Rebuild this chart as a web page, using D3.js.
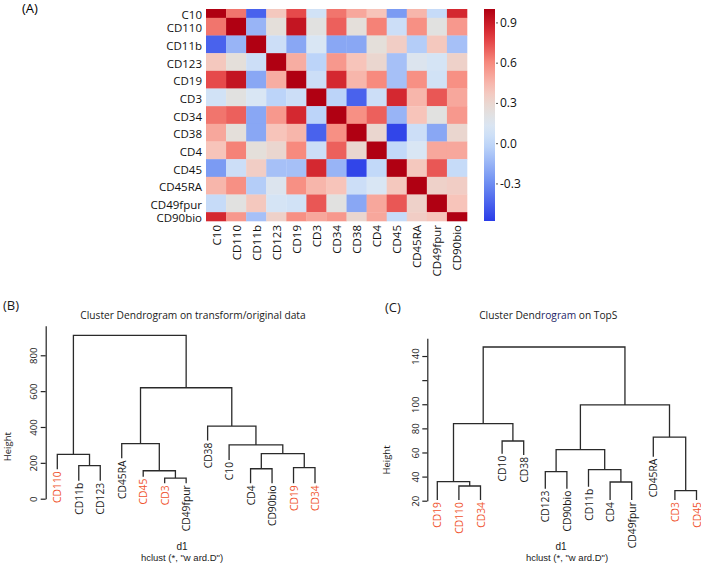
<!DOCTYPE html>
<html><head><meta charset="utf-8">
<script src="https://cdn.jsdelivr.net/npm/d3@7"></script>
<style>body{margin:0;background:#fff}svg{display:block}</style>
</head><body>
<svg id="chart" width="701" height="565"></svg>
<script>
// ---------- DATA ----------
const markers = ["C10","CD110","CD11b","CD123","CD19","CD3","CD34","CD38","CD4","CD45","CD45RA","CD49fpur","CD90bio"];
const corrC10      = [1.00, 0.65,-0.45, 0.38, 0.75, 0.08, 0.65, 0.50, 0.40,-0.25, 0.45, 0.02, 0.85];
const corrCD110    = [0.65, 1.00,-0.15, 0.25, 0.92, 0.22, 0.70, 0.25, 0.62, 0.05, 0.58, 0.22, 0.55];
const corrCD11b    = [-0.45,-0.15,1.00, 0.05,-0.20, 0.12,-0.20,-0.20, 0.25, 0.35,-0.05, 0.38,-0.10];
const corrCD123    = [0.38, 0.25, 0.05, 1.00, 0.48,-0.02, 0.55, 0.40, 0.30,-0.10, 0.15, 0.10, 0.33];
const corrCD19     = [0.75, 0.92,-0.20, 0.48, 1.00, 0.05, 0.85, 0.45, 0.60,-0.10, 0.58, 0.08, 0.58];
const corrCD3      = [0.08, 0.22, 0.12,-0.02, 0.05, 1.00,-0.02,-0.45, 0.05, 0.85, 0.45, 0.72, 0.50];
const corrCD34     = [0.65, 0.70,-0.20, 0.55, 0.85,-0.02, 1.00, 0.58, 0.70,-0.15, 0.40, 0.22, 0.55];
const corrCD38     = [0.50, 0.25,-0.20, 0.40, 0.45,-0.45, 0.58, 1.00, 0.30,-0.55, 0.05,-0.20, 0.30];
const corrCD4      = [0.40, 0.62, 0.25, 0.30, 0.60, 0.05, 0.70, 0.30, 1.00, 0.00, 0.12, 0.50, 0.50];
const corrCD45     = [-0.25,0.05, 0.35,-0.10,-0.10, 0.85,-0.15,-0.55, 0.00, 1.00, 0.38, 0.72, 0.02];
const corrCD45RA   = [0.45, 0.58,-0.05, 0.15, 0.58, 0.45, 0.40, 0.05, 0.12, 0.38, 1.00, 0.33, 0.35];
const corrCD49fpur = [0.02, 0.22, 0.38, 0.10, 0.08, 0.72, 0.22,-0.20, 0.50, 0.72, 0.33, 1.00, 0.40];
const corrCD90bio  = [0.85, 0.55,-0.10, 0.33, 0.58, 0.50, 0.55, 0.30, 0.50, 0.02, 0.35, 0.40, 1.00];
const corrRows = [corrC10,corrCD110,corrCD11b,corrCD123,corrCD19,corrCD3,corrCD34,corrCD38,corrCD4,corrCD45,corrCD45RA,corrCD49fpur,corrCD90bio];
const colorbarTicks = [0.9, 0.6, 0.3, 0.0, -0.3];
const colorbarTickLabels = ["0.9","0.6","0.3","0.0","-0.3"];
const colorDomain = [-0.58, 1.0];

// Dendrogram B (hclust merge format: negative = leaf position, positive = earlier merge)
const leavesB = ["CD110","CD11b","CD123","CD45RA","CD45","CD3","CD49fpur","CD38","C10","CD4","CD90bio","CD19","CD34"];
const leafEndB = [164, 100, 100, 225, 123, 86, 86, 324, 216, 86, 86, 86, 86];
const mergesB = [[-2,-3,184],[-1,1,247],[-6,-7,115],[-5,3,156],[-4,4,307],[-10,-11,167],[-12,-13,173],[6,7,251],[-9,8,300],[-8,9,405],[5,10,619],[2,11,911]];
const ticksB = [0,200,400,600,800];
const tickLabelsB = ["0","200","400","600","800"];
const highlightB = ["CD110","CD45","CD3","CD19","CD34"];

// Dendrogram C
const leavesC = ["CD19","CD110","CD34","CD10","CD38","CD123","CD90bio","CD11b","CD4","CD49fpur","CD45RA","CD3","CD45"];
const leafEndC = [20.5, 20.5, 20.5, 59, 58, 30, 30, 31.6, 20.5, 20.5, 56.5, 20.5, 20.5];
const mergesC = [[-2,-3,32.2],[-1,1,35.8],[-4,-5,69.5],[2,3,83.9],[-9,-10,35.5],[-8,5,45.7],[-6,-7,44.1],[7,6,62.3],[-12,-13,28.3],[-11,9,72.8],[8,10,99.4],[4,11,147.5]];
const ticksC = [20,40,60,80,100,120,140];
const tickLabelsC = ["20","40","60","80","100","","140"];
const highlightC = ["CD19","CD110","CD34","CD3","CD45"];

// ---------- DRAW ----------
const svg = d3.select("#chart");
const FONT_HM = "'Open Sans', sans-serif";
const FONT_D = "'Open Sans', sans-serif";
const FONT_S = "'Liberation Sans', Arial, sans-serif";

const color = d3.scaleLinear()
  .domain([-0.58, -0.3, 0.0, 0.12, 0.25, 0.4, 0.6, 0.8, 1.0])
  .range(["#2a3ce8","#6d8ef2","#c2d9f9","#d9e6f4","#e4dfda","#f7c4ba","#f78a7e","#e0353a","#b00012"])
  .interpolate(d3.interpolateRgb).clamp(true);

// Panel A
svg.append("text").attr("x",22).attr("y",13).attr("font-family",FONT_HM).attr("font-size",13).text("(A)");

const hx = d3.scaleBand().domain(markers).range([206,467]);
const hy = d3.scaleLinear().domain([0,12]).range([9,221]);
const cells = [];
corrRows.forEach((row,i)=>row.forEach((v,j)=>cells.push({i,j,v})));
const gH = svg.append("g");
gH.selectAll("rect").data(cells).join("rect")
  .attr("x",d=>hx(markers[d.j]))
  .attr("width",hx.bandwidth()+0.3)
  .attr("y",d=>Math.max(hy(0),hy(d.i-0.5)))
  .attr("height",d=>Math.min(hy(12),hy(d.i+0.5))-Math.max(hy(0),hy(d.i-0.5))+0.3)
  .attr("fill",d=>color(d.v));

gH.selectAll("text.row").data(markers).join("text").attr("class","row")
  .attr("x",202)
  .attr("y",(d,i)=>(Math.max(hy(0),hy(i-0.5))+Math.min(hy(12),hy(i+0.5)))/2+1)
  .attr("text-anchor","end").attr("dominant-baseline","central")
  .attr("font-family",FONT_HM).attr("font-size",11.5).attr("fill","#111").text(d=>d);

gH.selectAll("text.col").data(markers).join("text").attr("class","col")
  .attr("transform",d=>`translate(${hx(d)+hx.bandwidth()/2},225) rotate(-90)`)
  .attr("text-anchor","end").attr("dominant-baseline","central")
  .attr("font-family",FONT_HM).attr("font-size",11.5).attr("fill","#111").text(d=>d);

// colorbar
const cbScale = d3.scaleLinear().domain(colorDomain).range([221,9]);
const defs = svg.append("defs");
const grad = defs.append("linearGradient").attr("id","cbg").attr("x1",0).attr("y1",1).attr("x2",0).attr("y2",0);
d3.range(0,1.0001,0.05).forEach(t=>{
  grad.append("stop").attr("offset",t).attr("stop-color",color(colorDomain[0]+t*(colorDomain[1]-colorDomain[0])));
});
svg.append("rect").attr("x",484).attr("y",cbScale(colorDomain[1])).attr("width",11)
  .attr("height",cbScale(colorDomain[0])-cbScale(colorDomain[1])).attr("fill","url(#cbg)");
const cbAxis = d3.axisRight(cbScale).tickValues(colorbarTicks).tickSize(2).tickPadding(2)
  .tickFormat((d,i)=>colorbarTickLabels[i]);
const gcb = svg.append("g").attr("transform","translate(496,0)").call(cbAxis);
gcb.select(".domain").remove();
gcb.selectAll(".tick line").attr("stroke","#555").attr("stroke-width",1);
gcb.selectAll(".tick text").attr("font-family",FONT_HM).attr("font-size",12).attr("fill","#111");

// Dendrograms
function dendro(opts){
  const {leaves, leafEnd, merges, ticks, tickLabels, highlight, xs, ys, axisX} = opts;
  const g = svg.append("g");
  const node = [];
  const getX = k => k<0 ? xs(-k-1) : node[k-1].x;
  const getH = k => k<0 ? leafEnd[-k-1] : node[k-1].h;
  merges.forEach(m=>{ node.push({x:(getX(m[0])+getX(m[1]))/2, h:m[2]}); });
  merges.forEach(m=>{
    const p = d3.path();
    p.moveTo(getX(m[0]), ys(getH(m[0])));
    p.lineTo(getX(m[0]), ys(m[2]));
    p.lineTo(getX(m[1]), ys(m[2]));
    p.lineTo(getX(m[1]), ys(getH(m[1])));
    g.append("path").attr("d",p.toString()).attr("fill","none").attr("stroke","#2a2a2a").attr("stroke-width",1.3);
  });
  g.selectAll("text.leaf").data(leaves).join("text").attr("class","leaf")
    .attr("transform",(d,i)=>`translate(${xs(i)},${ys(leafEnd[i])+2}) rotate(-90)`)
    .attr("text-anchor","end").attr("dominant-baseline","central")
    .attr("font-family",FONT_D).attr("font-size",10.3)
    .attr("fill",d=>highlight.includes(d)?"#f0532d":"#1a1a1a").text(d=>d);
  const ax = d3.axisLeft(ys).tickValues(ticks).tickSize(5).tickSizeOuter(0).tickPadding(3).tickFormat((d,i)=>tickLabels[i]);
  const ga = g.append("g").attr("transform",`translate(${axisX},0)`).call(ax);
  ga.select(".domain").attr("stroke","#222").attr("stroke-width",1.2);
  ga.selectAll(".tick line").attr("stroke","#222").attr("stroke-width",1.2);
  ga.selectAll(".tick text").attr("font-family",FONT_D).attr("font-size",9.5).attr("fill","#222")
    .attr("text-anchor","middle").attr("dominant-baseline","central")
    .attr("transform","translate(-6,0) rotate(-90)").attr("x",0).attr("dy",0).attr("y",-6);
  return g;
}

const xsB = d3.scaleLinear().domain([0,12]).range([57.3,315]);
const ysB = d3.scaleLinear().domain([0,965]).range([498.7,325.7]);
dendro({leaves:leavesB, leafEnd:leafEndB, merges:mergesB, ticks:ticksB, tickLabels:tickLabelsB, highlight:highlightB, xs:xsB, ys:ysB, axisX:45.7});

const xsC = d3.scaleLinear().domain([0,12]).range([437.3,696.5]);
const ysC = d3.scaleLinear().domain([20,154.7]).range([500.7,338.3]);
dendro({leaves:leavesC, leafEnd:leafEndC, merges:mergesC, ticks:ticksC, tickLabels:tickLabelsC, highlight:highlightC, xs:xsC, ys:ysC, axisX:427.3});

// texts
function txt(x,y,s,size,opts={}){
  const t = svg.append("text").attr("x",x).attr("y",y).attr("font-family",opts.font||FONT_D)
    .attr("font-size",size).attr("fill",opts.fill||"#1a1a1a").attr("text-anchor",opts.anchor||"middle")
    .attr("dominant-baseline","central").text(s);
  if(opts.rot) t.attr("transform",`rotate(-90,${x},${y})`);
  return t;
}
txt(3,305,"(B)",13,{anchor:"start"});
txt(193,314.5,"Cluster Dendrogram on transform/original data",10.2);
txt(7.5,446.7,"Height",9.5,{rot:true});
txt(182,546.3,"d1",10,{font:FONT_S});
txt(182,557.6,"hclust (*, \"w ard.D\")",9.5,{font:FONT_S});

txt(385,306.5,"(C)",13,{anchor:"start"});
const tC = svg.append("text").attr("x",548.3).attr("y",314.5).attr("font-family",FONT_D).attr("font-size",10.2)
  .attr("text-anchor","middle").attr("dominant-baseline","central").attr("fill","#1a1a1a");
tC.append("tspan").text("Cluster Dend");
tC.append("tspan").attr("fill","#1c2466").text("rogram");
tC.append("tspan").text(" on TopS");
txt(386,460,"Height",9.5,{rot:true});
txt(561,546.3,"d1",10,{font:FONT_S});
txt(567,557.6,"hclust (*, \"w ard.D\")",9.5,{font:FONT_S});
</script>
</body></html>
